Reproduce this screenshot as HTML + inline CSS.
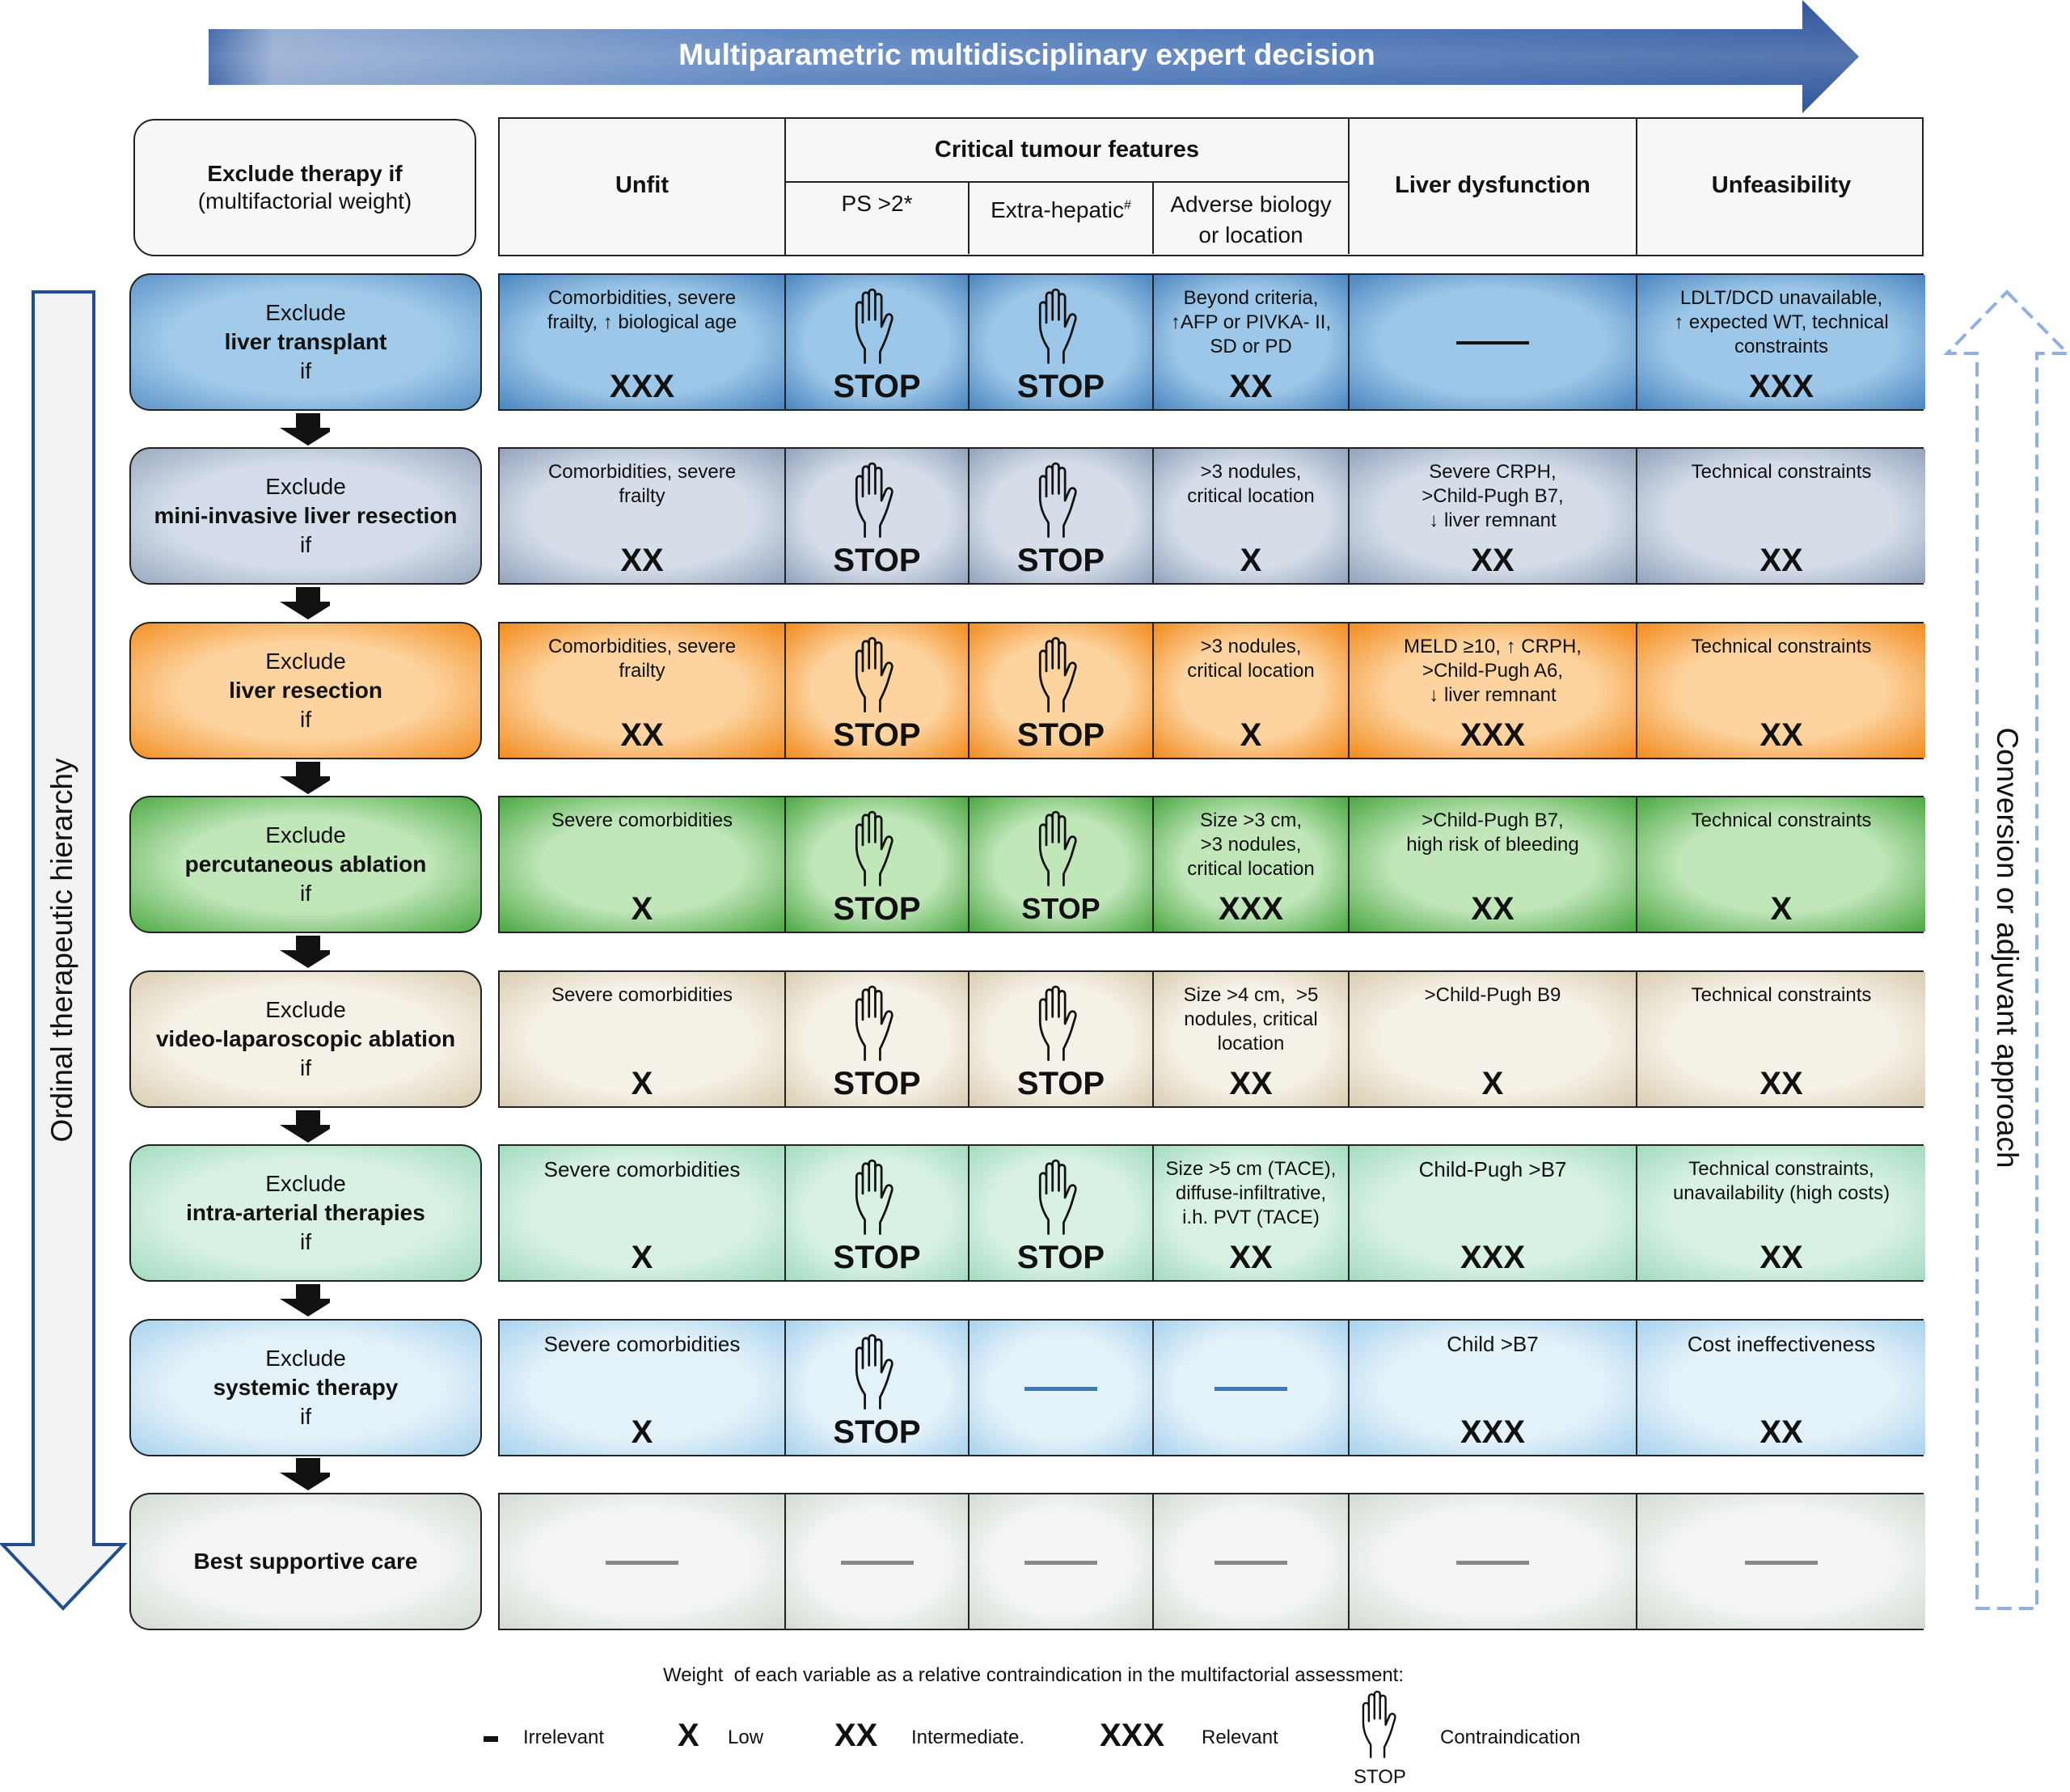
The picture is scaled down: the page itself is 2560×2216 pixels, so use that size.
<!DOCTYPE html>
<html><head><meta charset="utf-8">
<style>
*{box-sizing:border-box;margin:0;padding:0}
body{width:2560px;height:2216px;background:#fff;position:relative;font-family:"Liberation Sans",Arial,sans-serif;color:#111;overflow:hidden}
.abs{position:absolute}
.lbox{position:absolute;left:160px;width:436px;height:170px;border:2.5px solid #222;border-radius:26px;display:flex;flex-direction:column;justify-content:center;align-items:center;text-align:center;font-size:28px;line-height:36px}
.lbox b{font-weight:bold}
.row{position:absolute;left:616px;width:1763px;height:170px;border:2.5px solid #222}
.c{position:absolute;top:0;height:100%;border-right:2.5px solid #222;text-align:center}
.c:last-child{border-right:none}
.d{position:absolute;left:0;right:0;top:14px;font-size:24px;line-height:30px}
.m{position:absolute;left:0;right:0;top:116px;font-size:40px;font-weight:bold;line-height:44px}
.h{position:absolute;left:50%;top:16px;width:70px;height:96px;margin-left:-35px}
.dash{position:absolute;left:50%;top:82px;width:90px;height:5px;margin-left:-45px}
.ar{position:absolute;left:346px;width:62px}
.hc{position:absolute;border-right:2.5px solid #222;text-align:center;font-size:28px}
</style></head><body>
<svg width="0" height="0" style="position:absolute"><defs>
<symbol id="hand" viewBox="0 0 40 56"><path d="M11 54 L11 44 C7 38 5 32 5 26 L5 13 C5 9.5 9.5 9.5 9.5 13 L9.5 25 M9.5 25 L9.5 6 C9.5 2.5 14 2.5 14 6 L14 23 M14 23 L14 3.5 C14 0.5 18.5 0.5 18.5 3.5 L18.5 23 M18.5 23 L18.5 7 C18.5 3.5 23 3.5 23 7 L23 28 L26 21 C27.5 17.5 31.5 19 30.5 23 L27.5 33 C25.5 39 23.5 43 22 46 L22 54" fill="none" stroke="#111" stroke-width="1.6" stroke-linecap="round" stroke-linejoin="round"/></symbol>
</defs></svg>

<!-- top arrow -->
<svg class="abs" style="left:0;top:0" width="2560" height="150">
<defs><linearGradient id="tg" x1="0" x2="1" y1="0" y2="0"><stop offset="0" stop-color="#2f5aa0"/><stop offset="0.04" stop-color="#8da7cf"/><stop offset="0.35" stop-color="#4f7abb"/><stop offset="0.7" stop-color="#3a67ae"/><stop offset="1" stop-color="#2c549b"/></linearGradient>
<linearGradient id="tv" x1="0" x2="0" y1="0" y2="1"><stop offset="0" stop-color="#fff" stop-opacity="0"/><stop offset="0.5" stop-color="#fff" stop-opacity="0.2"/><stop offset="1" stop-color="#fff" stop-opacity="0"/></linearGradient></defs>
<polygon points="258,36 2229,36 2229,0 2299,70 2229,140 2229,105 258,105" fill="url(#tg)"/>
<polygon points="258,36 2229,36 2229,0 2299,70 2229,140 2229,105 258,105" fill="url(#tv)"/>
<text x="1270" y="80" text-anchor="middle" fill="#fff" font-family="Liberation Sans, Arial, sans-serif" font-weight="bold" font-size="37">Multiparametric multidisciplinary expert decision</text>
</svg>

<!-- left vertical arrow -->
<svg class="abs" style="left:0;top:355px" width="160" height="1640">
<polygon points="41,6 116,6 116,1555 153,1555 78,1634 3,1555 41,1555" fill="#f2f3f5" stroke="#1f4f8f" stroke-width="4"/>
</svg>
<div class="abs" style="left:77px;top:1175px;transform:translate(-50%,-50%) rotate(-90deg);font-size:37px;white-space:nowrap">Ordinal therapeutic hierarchy</div>

<!-- right dashed arrow -->
<svg class="abs" style="left:2400px;top:355px" width="160" height="1640">
<polygon points="82,6 157,82 119,82 119,1634 45,1634 45,82 8,82" fill="#fff" stroke="#8fb0e0" stroke-width="4" stroke-dasharray="18,9"/>
</svg>
<div class="abs" style="left:2482px;top:1172px;transform:translate(-50%,-50%) rotate(90deg);font-size:37px;white-space:nowrap">Conversion or adjuvant approach</div>

<!-- header -->
<div class="lbox" style="top:147px;height:170px;left:165px;width:424px;background:#f8f8f8;line-height:34px"><b>Exclude therapy if</b><span>(multifactorial weight)</span></div>
<div class="abs" style="left:616px;top:145px;width:1763px;height:172px;border:2.5px solid #222;background:#f7f7f7">
 <div class="hc" style="left:0;top:0;width:354px;height:100%;line-height:165px;font-weight:bold;font-size:29px">Unfit</div>
 <div class="hc" style="left:354px;top:0;width:697px;height:79px;border-bottom:2.5px solid #222;line-height:76px;font-weight:bold;font-size:29px">Critical tumour features</div>
 <div class="hc" style="left:354px;top:79px;width:227px;height:88px;padding-top:10px;font-size:28px">PS &gt;2*</div>
 <div class="hc" style="left:581px;top:79px;width:228px;height:88px;padding-top:18px;font-size:28px">Extra-hepatic<sup style="font-size:16px">#</sup></div>
 <div class="hc" style="left:809px;top:79px;width:242px;height:88px;padding-top:8px;font-size:28px;line-height:38px">Adverse biology<br>or location</div>
 <div class="hc" style="left:1051px;top:0;width:356px;height:100%;line-height:165px;font-weight:bold;font-size:29px">Liver dysfunction</div>
 <div class="hc" style="left:1407px;top:0;width:356px;height:100%;line-height:165px;font-weight:bold;font-size:29px;border-right:none">Unfeasibility</div>
</div>

<!-- Row 1 -->
<div class="lbox" style="top:338px;background:radial-gradient(ellipse at center,#a2cbea 55%,#5d94c9 100%)">Exclude<b>liver transplant</b>if</div>
<div class="row" style="top:338px">
 <div class="c" style="left:0;width:354px;background:radial-gradient(ellipse at center,#9dc7e8 55%,#4a86c0 100%)"><div class="d">Comorbidities, severe<br>frailty, ↑ biological age</div><div class="m">XXX</div></div>
 <div class="c" style="left:354px;width:227px;background:radial-gradient(ellipse at center,#9dc7e8 55%,#4a86c0 100%)"><svg class="h"><use href="#hand"/></svg><div class="m">STOP</div></div>
 <div class="c" style="left:581px;width:228px;background:radial-gradient(ellipse at center,#9dc7e8 55%,#4a86c0 100%)"><svg class="h"><use href="#hand"/></svg><div class="m">STOP</div></div>
 <div class="c" style="left:809px;width:242px;background:radial-gradient(ellipse at center,#9dc7e8 55%,#4a86c0 100%)"><div class="d">Beyond criteria,<br>↑AFP or PIVKA- II,<br>SD or PD</div><div class="m">XX</div></div>
 <div class="c" style="left:1051px;width:356px;background:radial-gradient(ellipse at center,#9dc7e8 55%,#4a86c0 100%)"><div class="dash" style="background:#111;height:4px"></div></div>
 <div class="c" style="left:1407px;width:356px;background:radial-gradient(ellipse at center,#9dc7e8 55%,#4a86c0 100%)"><div class="d">LDLT/DCD unavailable,<br>↑ expected WT, technical<br>constraints</div><div class="m">XXX</div></div>
</div>
<svg class="ar" style="top:511px" height="40" width="70"><polygon points="20,0 50,0 50,18 70,18 35,40 0,18 20,18" fill="#111"/></svg>

<!-- Row 2 -->
<div class="lbox" style="top:553px;background:radial-gradient(ellipse at center,#d4dde9 55%,#9aa9c0 100%)">Exclude<b>mini-invasive liver resection</b>if</div>
<div class="row" style="top:553px">
 <div class="c" style="left:0;width:354px;background:radial-gradient(ellipse at center,#d5dde9 55%,#93a3bc 100%)"><div class="d">Comorbidities, severe<br>frailty</div><div class="m">XX</div></div>
 <div class="c" style="left:354px;width:227px;background:radial-gradient(ellipse at center,#d5dde9 55%,#93a3bc 100%)"><svg class="h"><use href="#hand"/></svg><div class="m">STOP</div></div>
 <div class="c" style="left:581px;width:228px;background:radial-gradient(ellipse at center,#d5dde9 55%,#93a3bc 100%)"><svg class="h"><use href="#hand"/></svg><div class="m">STOP</div></div>
 <div class="c" style="left:809px;width:242px;background:radial-gradient(ellipse at center,#d5dde9 55%,#93a3bc 100%)"><div class="d">&gt;3 nodules,<br>critical location</div><div class="m">X</div></div>
 <div class="c" style="left:1051px;width:356px;background:radial-gradient(ellipse at center,#d5dde9 55%,#93a3bc 100%)"><div class="d">Severe CRPH,<br>&gt;Child-Pugh B7,<br>↓ liver remnant</div><div class="m">XX</div></div>
 <div class="c" style="left:1407px;width:356px;background:radial-gradient(ellipse at center,#d5dde9 55%,#93a3bc 100%)"><div class="d">Technical constraints</div><div class="m">XX</div></div>
</div>
<svg class="ar" style="top:726px" height="40" width="70"><polygon points="20,0 50,0 50,18 70,18 35,40 0,18 20,18" fill="#111"/></svg>

<!-- Row 3 -->
<div class="lbox" style="top:769px;background:radial-gradient(ellipse at center,#fdd4a0 50%,#f39026 100%)">Exclude<b>liver resection</b>if</div>
<div class="row" style="top:769px">
 <div class="c" style="left:0;width:354px;background:radial-gradient(ellipse at center,#fdd4a0 50%,#f28b1e 100%)"><div class="d">Comorbidities, severe<br>frailty</div><div class="m">XX</div></div>
 <div class="c" style="left:354px;width:227px;background:radial-gradient(ellipse at center,#fdd4a0 50%,#f28b1e 100%)"><svg class="h"><use href="#hand"/></svg><div class="m">STOP</div></div>
 <div class="c" style="left:581px;width:228px;background:radial-gradient(ellipse at center,#fdd4a0 50%,#f28b1e 100%)"><svg class="h"><use href="#hand"/></svg><div class="m">STOP</div></div>
 <div class="c" style="left:809px;width:242px;background:radial-gradient(ellipse at center,#fdd4a0 50%,#f28b1e 100%)"><div class="d">&gt;3 nodules,<br>critical location</div><div class="m">X</div></div>
 <div class="c" style="left:1051px;width:356px;background:radial-gradient(ellipse at center,#fdd4a0 50%,#f28b1e 100%)"><div class="d">MELD ≥10, ↑ CRPH,<br>&gt;Child-Pugh A6,<br>↓ liver remnant</div><div class="m">XXX</div></div>
 <div class="c" style="left:1407px;width:356px;background:radial-gradient(ellipse at center,#fdd4a0 50%,#f28b1e 100%)"><div class="d">Technical constraints</div><div class="m">XX</div></div>
</div>
<svg class="ar" style="top:942px" height="40" width="70"><polygon points="20,0 50,0 50,18 70,18 35,40 0,18 20,18" fill="#111"/></svg>

<!-- Row 4 -->
<div class="lbox" style="top:984px;background:radial-gradient(ellipse at center,#c0e6b9 50%,#4eab45 100%)">Exclude<b>percutaneous ablation</b>if</div>
<div class="row" style="top:984px">
 <div class="c" style="left:0;width:354px;background:radial-gradient(ellipse at center,#c0e6b9 50%,#4aa841 100%)"><div class="d">Severe comorbidities</div><div class="m">X</div></div>
 <div class="c" style="left:354px;width:227px;background:radial-gradient(ellipse at center,#c0e6b9 50%,#4aa841 100%)"><svg class="h"><use href="#hand"/></svg><div class="m">STOP</div></div>
 <div class="c" style="left:581px;width:228px;background:radial-gradient(ellipse at center,#c0e6b9 50%,#4aa841 100%)"><svg class="h"><use href="#hand"/></svg><div class="m" style="font-size:36px">STOP</div></div>
 <div class="c" style="left:809px;width:242px;background:radial-gradient(ellipse at center,#c0e6b9 50%,#4aa841 100%)"><div class="d">Size &gt;3 cm,<br>&gt;3 nodules,<br>critical location</div><div class="m">XXX</div></div>
 <div class="c" style="left:1051px;width:356px;background:radial-gradient(ellipse at center,#c0e6b9 50%,#4aa841 100%)"><div class="d">&gt;Child-Pugh B7,<br>high risk of bleeding</div><div class="m">XX</div></div>
 <div class="c" style="left:1407px;width:356px;background:radial-gradient(ellipse at center,#c0e6b9 50%,#4aa841 100%)"><div class="d">Technical constraints</div><div class="m">X</div></div>
</div>
<svg class="ar" style="top:1157px" height="40" width="70"><polygon points="20,0 50,0 50,18 70,18 35,40 0,18 20,18" fill="#111"/></svg>

<!-- Row 5 -->
<div class="lbox" style="top:1200px;background:radial-gradient(ellipse at center,#f6f1e7 55%,#d9cdb2 100%)">Exclude<b>video-laparoscopic ablation</b>if</div>
<div class="row" style="top:1200px">
 <div class="c" style="left:0;width:354px;background:radial-gradient(ellipse at center,#f6f1e7 55%,#d9cdb2 100%)"><div class="d">Severe comorbidities</div><div class="m">X</div></div>
 <div class="c" style="left:354px;width:227px;background:radial-gradient(ellipse at center,#f6f1e7 55%,#d9cdb2 100%)"><svg class="h"><use href="#hand"/></svg><div class="m">STOP</div></div>
 <div class="c" style="left:581px;width:228px;background:radial-gradient(ellipse at center,#f6f1e7 55%,#d9cdb2 100%)"><svg class="h"><use href="#hand"/></svg><div class="m">STOP</div></div>
 <div class="c" style="left:809px;width:242px;background:radial-gradient(ellipse at center,#f6f1e7 55%,#d9cdb2 100%)"><div class="d">Size &gt;4 cm, &nbsp;&gt;5<br>nodules, critical<br>location</div><div class="m">XX</div></div>
 <div class="c" style="left:1051px;width:356px;background:radial-gradient(ellipse at center,#f6f1e7 55%,#d9cdb2 100%)"><div class="d">&gt;Child-Pugh B9</div><div class="m">X</div></div>
 <div class="c" style="left:1407px;width:356px;background:radial-gradient(ellipse at center,#f6f1e7 55%,#d9cdb2 100%)"><div class="d">Technical constraints</div><div class="m">XX</div></div>
</div>
<svg class="ar" style="top:1373px" height="40" width="70"><polygon points="20,0 50,0 50,18 70,18 35,40 0,18 20,18" fill="#111"/></svg>

<!-- Row 6 -->
<div class="lbox" style="top:1415px;background:radial-gradient(ellipse at center,#d8f1e4 55%,#a3dbc0 100%)">Exclude<b>intra-arterial therapies</b>if</div>
<div class="row" style="top:1415px">
 <div class="c" style="left:0;width:354px;background:radial-gradient(ellipse at center,#d8f1e4 55%,#a3dbc0 100%)"><div class="d" style="font-size:26px">Severe comorbidities</div><div class="m">X</div></div>
 <div class="c" style="left:354px;width:227px;background:radial-gradient(ellipse at center,#d8f1e4 55%,#a3dbc0 100%)"><svg class="h"><use href="#hand"/></svg><div class="m">STOP</div></div>
 <div class="c" style="left:581px;width:228px;background:radial-gradient(ellipse at center,#d8f1e4 55%,#a3dbc0 100%)"><svg class="h"><use href="#hand"/></svg><div class="m">STOP</div></div>
 <div class="c" style="left:809px;width:242px;background:radial-gradient(ellipse at center,#d8f1e4 55%,#a3dbc0 100%)"><div class="d">Size &gt;5 cm (TACE),<br>diffuse-infiltrative,<br>i.h. PVT (TACE)</div><div class="m">XX</div></div>
 <div class="c" style="left:1051px;width:356px;background:radial-gradient(ellipse at center,#d8f1e4 55%,#a3dbc0 100%)"><div class="d" style="font-size:26px">Child-Pugh &gt;B7</div><div class="m">XXX</div></div>
 <div class="c" style="left:1407px;width:356px;background:radial-gradient(ellipse at center,#d8f1e4 55%,#a3dbc0 100%)"><div class="d">Technical constraints,<br>unavailability (high costs)</div><div class="m">XX</div></div>
</div>
<svg class="ar" style="top:1588px" height="40" width="70"><polygon points="20,0 50,0 50,18 70,18 35,40 0,18 20,18" fill="#111"/></svg>

<!-- Row 7 -->
<div class="lbox" style="top:1631px;background:radial-gradient(ellipse at center,#e3f1f9 55%,#a8d2ee 100%)">Exclude<b>systemic therapy</b>if</div>
<div class="row" style="top:1631px">
 <div class="c" style="left:0;width:354px;background:radial-gradient(ellipse at center,#e3f1f9 55%,#a8d2ee 100%)"><div class="d" style="font-size:26px">Severe comorbidities</div><div class="m">X</div></div>
 <div class="c" style="left:354px;width:227px;background:radial-gradient(ellipse at center,#e3f1f9 55%,#a8d2ee 100%)"><svg class="h"><use href="#hand"/></svg><div class="m">STOP</div></div>
 <div class="c" style="left:581px;width:228px;background:radial-gradient(ellipse at center,#e3f1f9 55%,#a8d2ee 100%)"><div class="dash" style="background:#3a78c0"></div></div>
 <div class="c" style="left:809px;width:242px;background:radial-gradient(ellipse at center,#e3f1f9 55%,#a8d2ee 100%)"><div class="dash" style="background:#3a78c0"></div></div>
 <div class="c" style="left:1051px;width:356px;background:radial-gradient(ellipse at center,#e3f1f9 55%,#a8d2ee 100%)"><div class="d" style="font-size:26px">Child &gt;B7</div><div class="m">XXX</div></div>
 <div class="c" style="left:1407px;width:356px;background:radial-gradient(ellipse at center,#e3f1f9 55%,#a8d2ee 100%)"><div class="d" style="font-size:26px">Cost ineffectiveness</div><div class="m">XX</div></div>
</div>
<svg class="ar" style="top:1803px" height="40" width="70"><polygon points="20,0 50,0 50,18 70,18 35,40 0,18 20,18" fill="#111"/></svg>

<!-- Row 8 -->
<div class="lbox" style="top:1846px;background:radial-gradient(ellipse at center,#f2f5f2 55%,#d3dad3 100%)"><b>Best supportive care</b></div>
<div class="row" style="top:1846px">
 <div class="c" style="left:0;width:354px;background:radial-gradient(ellipse at center,#f2f5f2 55%,#d3dad3 100%)"><div class="dash" style="background:#888"></div></div>
 <div class="c" style="left:354px;width:227px;background:radial-gradient(ellipse at center,#f2f5f2 55%,#d3dad3 100%)"><div class="dash" style="background:#888"></div></div>
 <div class="c" style="left:581px;width:228px;background:radial-gradient(ellipse at center,#f2f5f2 55%,#d3dad3 100%)"><div class="dash" style="background:#888"></div></div>
 <div class="c" style="left:809px;width:242px;background:radial-gradient(ellipse at center,#f2f5f2 55%,#d3dad3 100%)"><div class="dash" style="background:#888"></div></div>
 <div class="c" style="left:1051px;width:356px;background:radial-gradient(ellipse at center,#f2f5f2 55%,#d3dad3 100%)"><div class="dash" style="background:#888"></div></div>
 <div class="c" style="left:1407px;width:356px;background:radial-gradient(ellipse at center,#f2f5f2 55%,#d3dad3 100%)"><div class="dash" style="background:#888"></div></div>
</div>

<!-- legend -->
<div class="abs" style="left:0;width:2556px;top:2058px;text-align:center;font-size:24px">Weight &nbsp;of each variable as a relative contraindication in the multifactorial assessment:</div>
<div class="abs" style="left:598px;top:2147px;width:18px;height:7px;background:#111"></div>
<div class="abs" style="left:647px;top:2135px;font-size:24px">Irrelevant</div>
<div class="abs" style="left:838px;top:2124px;font-size:40px;font-weight:bold">X</div>
<div class="abs" style="left:900px;top:2135px;font-size:24px">Low</div>
<div class="abs" style="left:1032px;top:2124px;font-size:40px;font-weight:bold">XX</div>
<div class="abs" style="left:1127px;top:2135px;font-size:24px">Intermediate.</div>
<div class="abs" style="left:1360px;top:2124px;font-size:40px;font-weight:bold">XXX</div>
<div class="abs" style="left:1486px;top:2135px;font-size:24px">Relevant</div>
<svg class="abs" style="left:1678px;top:2090px" width="62" height="86"><use href="#hand"/></svg>
<div class="abs" style="left:1674px;top:2184px;font-size:24px">STOP</div>
<div class="abs" style="left:1781px;top:2135px;font-size:24px">Contraindication</div>
</body></html>
